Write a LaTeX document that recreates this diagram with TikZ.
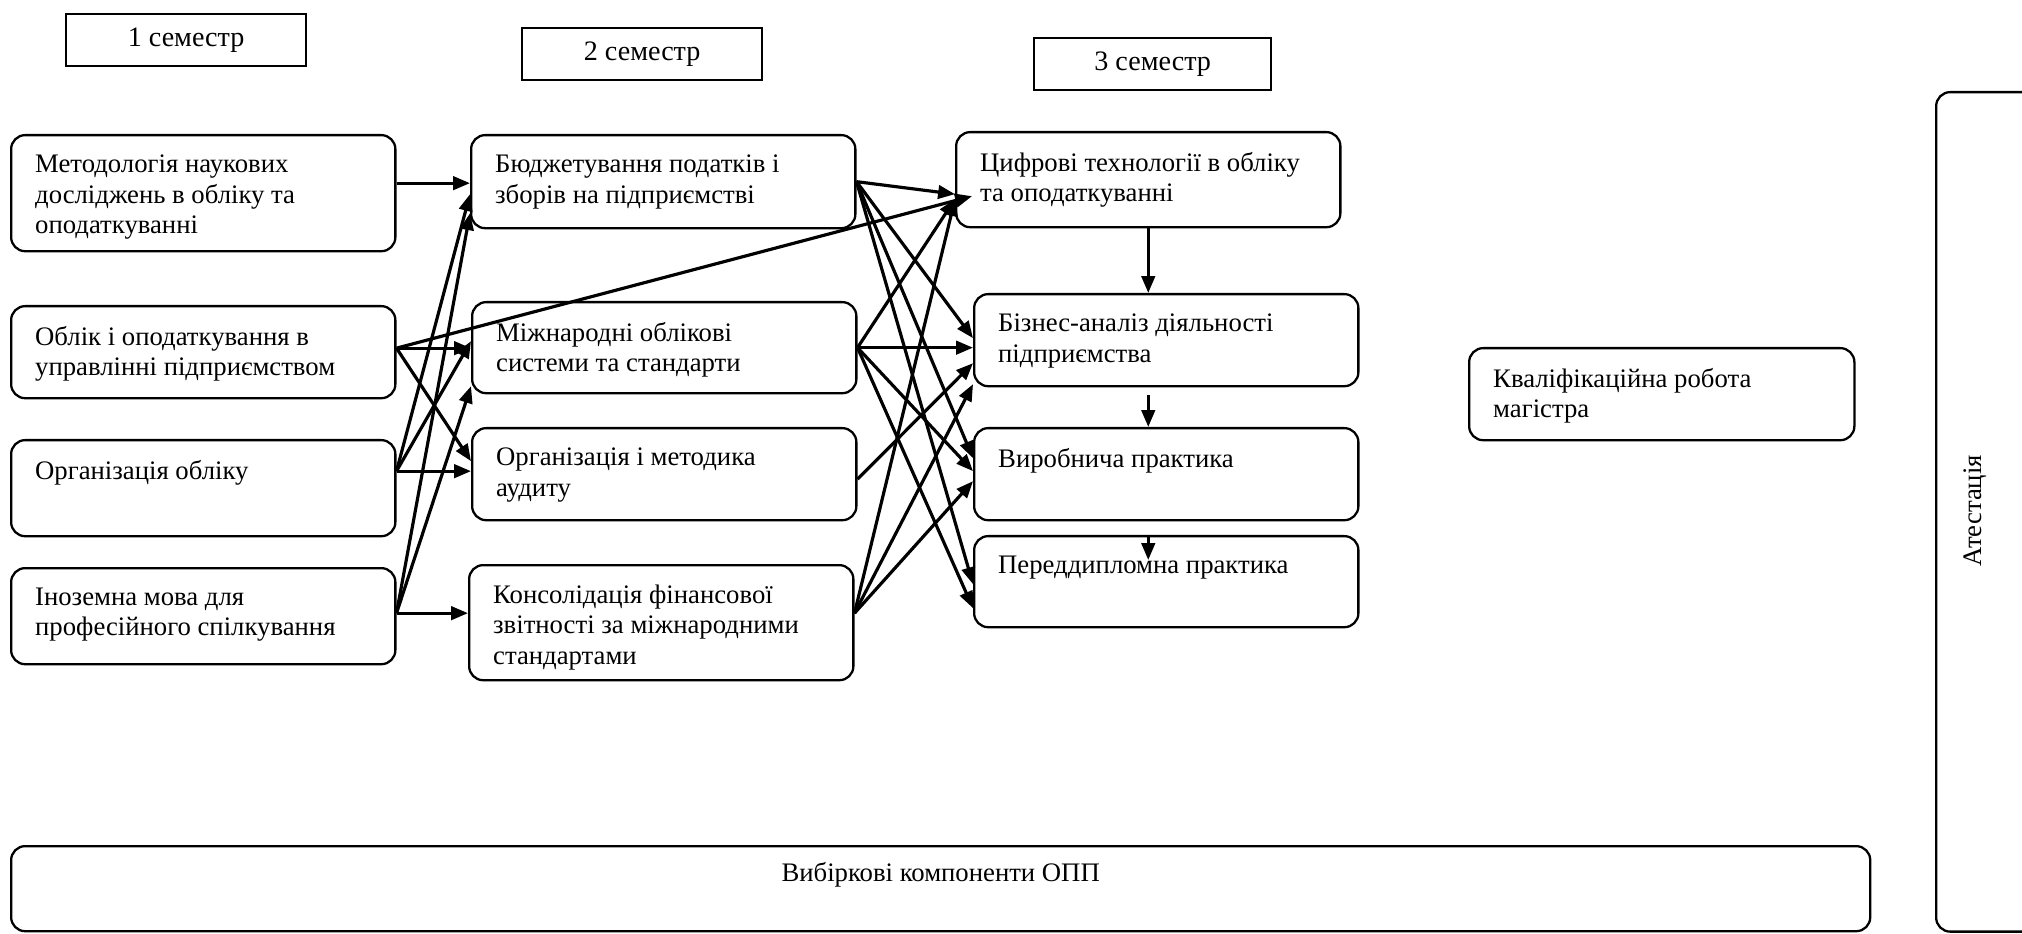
\documentclass[tikz,border=0pt]{standalone}
\usepackage{fontspec}
\setmainfont{Liberation Serif}
\usetikzlibrary{arrows.meta}
\newcommand{\cell}[2]{\parbox[t][#1][t]{3.36cm}{\raggedright #2}}
\begin{document}
\begin{tikzpicture}[x=0.01cm,y=-0.01cm,
  blk/.style={draw, rounded corners=0.14cm, line width=0.65pt, anchor=north west,
    inner xsep=0.24cm, inner ysep=0.2cm, font=\fontsize{7.6}{8.6}\selectfont},
  sem/.style={draw, line width=0.6pt, anchor=north west, minimum width=2.4cm,
    minimum height=0.52cm, inner sep=0pt, font=\fontsize{8}{9.6}\selectfont},
  arr/.style={-{Triangle[length=4.8pt,width=3.8pt]}, line width=0.9pt}]
\useasboundingbox (0,0) rectangle (2022,934);
\node[sem] (s1) at (65,13) {1 семестр};
\node[sem] (s2) at (521,27) {2 семестр};
\node[sem, minimum width=2.37cm] (s3) at (1033,37) {3 семестр};
\node[blk] (a1) at (10,134) {\cell{0.76cm}{Методологія наукових\\досліджень в обліку та\\оподаткуванні}};
\node[blk] (a2) at (10,305) {\cell{0.52cm}{Облік і оподаткування в\\управлінні підприємством}};
\node[blk] (a3) at (10,439) {\cell{0.56cm}{Організація обліку}};
\node[blk] (a4) at (10,567) {\cell{0.56cm}{Іноземна мова для\\професійного спілкування}};
\node[blk] (b1) at (470,134) {\cell{0.53cm}{Бюджетування податків і\\зборів на підприємстві}};
\node[blk] (b2) at (471,301) {\cell{0.51cm}{Міжнародні облікові\\системи та стандарти}};
\node[blk] (b3) at (471,427) {\cell{0.52cm}{Організація і методика\\аудиту}};
\node[blk] (b4) at (468,564) {\cell{0.75cm}{Консолідація фінансової\\звітності за міжнародними\\стандартами}};
\node[blk] (c1) at (955,131) {\cell{0.55cm}{Цифрові технології в обліку\\та оподаткуванні}};
\node[blk] (c2) at (973,293) {\cell{0.52cm}{Бізнес-аналіз діяльності\\підприємства}};
\node[blk] (c3) at (973,427) {\cell{0.52cm}{Виробнича практика}};
\node[blk] (c4) at (973,535) {\cell{0.51cm}{Переддипломна практика}};
\node[blk] (d) at (1468,347) {\parbox[t][0.52cm][t]{3.37cm}{Кваліфікаційна робота\\магістра}};
\node[blk, inner ysep=0.16cm] (vyb) at (10,845) {\parbox[t][0.53cm][t]{18.1cm}{\centering Вибіркові компоненти ОПП}};
\node[draw, rounded corners=0.14cm, line width=0.65pt, anchor=north west, inner sep=0pt,
  minimum width=2cm, minimum height=8.39cm] (attbox) at (1935,91) {};
\node[rotate=90, font=\fontsize{7.6}{8.6}\selectfont] (att) at (1975,511) {Атестація};
\coordinate (a1o) at ([yshift=0.1cm]a1.east);
\coordinate (a2o) at ([yshift=0.04cm]a2.east);
\coordinate (a3o) at ([yshift=0.17cm]a3.east);
\coordinate (a4o) at ([yshift=0.03cm]a4.east);
\coordinate (b3o) at ([yshift=-0.05cm]b3.east);
\coordinate (b4o) at ([yshift=0.095cm]b4.east);
\draw[arr] (a1o) -- (a1o -| b1.west);
\draw[arr] (a2o) -- (a2o -| b2.west);
\draw[arr] (a2o) -- ([yshift=0.13cm]b3.west);
\draw[arr] (a2o) -- ([xshift=0.17cm,yshift=-0.165cm]c1.west);
\draw[arr] (a3o) -- ([yshift=-0.125cm]b1.west);
\draw[arr] (a3o) -- ([yshift=0.065cm]b2.west);
\draw[arr] (a3o) -- (a3o -| b3.west);
\draw[arr] (a4o) -- ([yshift=-0.315cm]b1.west);
\draw[arr] (a4o) -- ([yshift=-0.385cm]b2.west);
\draw[arr] (a4o) -- (a4o -| b4.west);
\draw[arr] (b1.east) -- ([yshift=-0.145cm]c1.west);
\draw[arr] (b1.east) -- ([yshift=0.02cm]c2.west);
\draw[arr] (b1.east) -- ([yshift=0.16cm]c3.west);
\draw[arr] (b1.east) -- ([yshift=-0.025cm]c4.west);
\draw[arr] (b2.east) -- ([yshift=-0.195cm]c1.west);
\draw[arr] (b2.east) -- (b2.east -| c2.west);
\draw[arr] (b2.east) -- ([yshift=0.03cm]c3.west);
\draw[arr] (b2.east) -- ([yshift=-0.265cm]c4.west);
\draw[arr] (b3o) -- ([yshift=-0.23cm]c2.west);
\draw[arr] (b4o) -- ([yshift=-0.195cm]c1.west);
\draw[arr] (b4o) -- ([yshift=-0.44cm]c2.west);
\draw[arr] (b4o) -- ([yshift=-0.07cm]c3.west);
\draw[arr] (c1.south) -- (c1.south |- c2.north);
\draw[arr] ([yshift=-0.08cm]c1.south |- c2.south) -- (c1.south |- c3.north);
\draw[arr] (c1.south |- c4.north) -- ([yshift=-0.25cm]c1.south |- c4.north);
\end{tikzpicture}
\end{document}
